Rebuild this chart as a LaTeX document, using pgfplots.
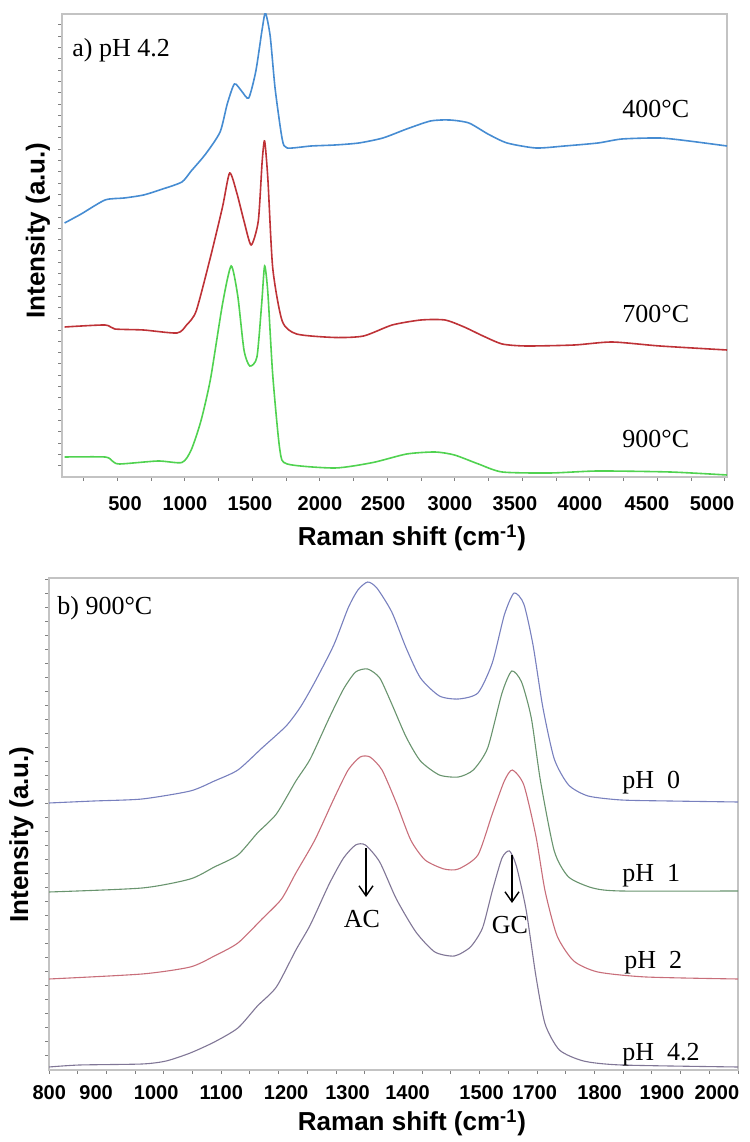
\documentclass[border=0pt]{standalone}
\usepackage{fontspec}
\setmainfont{Liberation Serif}
\setsansfont{Liberation Sans}
\usepackage{pgfplots}
\pgfplotsset{compat=1.18}
\usetikzlibrary{arrows.meta}
\definecolor{cblue}{RGB}{70,140,210}
\definecolor{cred}{RGB}{190,50,55}
\definecolor{cgreen}{RGB}{80,210,80}
\definecolor{bblue}{RGB}{120,128,190}
\definecolor{bgreen}{RGB}{105,148,110}
\definecolor{bred}{RGB}{200,110,122}
\definecolor{bpurple}{RGB}{128,118,150}
\definecolor{framec}{RGB}{195,195,195}
\begin{document}
\begin{tikzpicture}
\useasboundingbox (0,0) rectangle (375pt,571pt);
\pgfplotsset{
  myax/.style={
    scale only axis, anchor=south west,
    axis line style={framec, line width=0.8pt},
    tick align=outside,
    major tick length=2pt,
    tick style={gray, line width=0.5pt},
    xticklabels={}, yticklabels={},
    xtick pos=bottom, ytick pos=left,
    extra x tick style={major tick length=0pt,
      xticklabel style={font=\sffamily\bfseries\fontsize{10}{12}\selectfont, anchor=north, inner sep=0pt}},
    clip=true,
  }
}
% ---------------- panel a ----------------
\begin{axis}[myax,
  at={(31pt,332.5pt)}, width=332.5pt, height=231.5pt,
  xmin=89, xmax=5015, ymin=3, ymax=466,
  xtick={250,500,...,5000},
  ytick={14.3,25.6,...,466},
  extra x ticks={556,1000,1481,2000,2467,2963,3444,3926,4422,4904},
  extra x tick labels={500,1000,1500,2000,2500,3000,3500,4000,4500,5000},
  extra x tick style={xticklabel style={yshift=-9.5pt}},
]
\addplot[cblue, line width=0.8pt, smooth, tension=0.4] coordinates {
(108,257) (231,266) (408,280) (550,282) (693,285) (835,291) (977,298) (1046,309)
(1153,326) (1260,348) (1313,376) (1366,396) (1419,389) (1472,382) (1525,409)
(1572,451) (1596,467) (1631,444) (1668,391) (1720,341) (1757,332) (1934,334)
(2111,335) (2288,337) (2466,342) (2642,351) (2819,359) (2961,360) (3103,357)
(3244,346) (3386,337) (3600,332) (3812,334) (4059,337) (4237,341) (4518,342)
(4733,339) (5015,334)};
\addplot[cred, line width=0.8pt, smooth, tension=0.4] coordinates {
(108,153) (408,155) (480,151) (693,150) (941,147) (1012,155) (1083,169) (1189,223)
(1278,273) (1331,307) (1384,287) (1437,259) (1490,235) (1543,259) (1572,319)
(1590,339) (1614,301) (1650,212) (1720,159) (1827,146) (2111,142.5) (2323,144)
(2535,155) (2748,160) (2926,160) (3068,153) (3208,144) (3350,136) (3527,134)
(3884,135) (4164,138) (4518,134) (5015,130)};
\addplot[cgreen, line width=0.8pt, smooth, tension=0.4] coordinates {
(108,23) (408,23) (462,19) (515,16) (800,19) (977,17.5) (1046,30) (1118,59)
(1189,101) (1278,176) (1342,214) (1391,184) (1437,130) (1480,114) (1533,123)
(1568,176) (1590,214) (1614,187) (1650,105) (1703,30) (1757,16) (2111,12)
(2393,17.5) (2642,26) (2852,28) (2996,25) (3174,16) (3350,8) (3706,7)
(4059,9) (4593,8) (5015,5)};
\end{axis}
% ---------------- panel b ----------------
\begin{axis}[myax,
  at={(24.5pt,36pt)}, width=344.5pt, height=246pt,
  xmin=800, xmax=2000, ymin=30, ymax=522,
  xtick={800,850,...,2000},
  ytick={44,58,...,522},
  extra x ticks={800.5,882,986.6,1100,1213,1320,1424.5,1553.5,1646,1759,1867.5,1963.4},
  extra x tick labels={800,900,1000,1100,1200,1300,1400,1500,1700,1800,1900,2000},
  extra x tick style={xticklabel style={yshift=-7.5pt}},
]
\addplot[bblue, line width=0.55pt, smooth, tension=0.4] coordinates {
(800,297) (878,299) (962,301) (1046,309) (1088,319) (1129,330) (1171,352) (1213,374)
(1238,393) (1263,418) (1296,455) (1321,492) (1338,510) (1355,518) (1371,512)
(1397,488) (1422,452) (1447,422) (1480,404) (1513,401) (1547,407) (1572,437)
(1593,485) (1610,507) (1627,496) (1643,455) (1660,393) (1680,341) (1705,315)
(1739,304) (1797,300) (1881,299) (2000,298)};
\addplot[bgreen, line width=0.55pt, smooth, tension=0.4] coordinates {
(800,208) (962,212) (1046,221) (1088,233) (1129,245) (1163,267) (1196,286) (1230,319)
(1255,341) (1288,382) (1313,411) (1334,428) (1355,431) (1376,422) (1397,396)
(1422,363) (1447,339) (1480,325) (1513,323) (1539,330) (1564,352) (1589,407)
(1606,429) (1623,418) (1640,382) (1656,319) (1680,249) (1705,223) (1747,212)
(1797,209) (2000,209)};
\addplot[bred, line width=0.55pt, smooth, tension=0.4] coordinates {
(800,121) (962,126) (1046,133) (1088,144) (1129,157) (1171,181) (1205,201) (1230,227)
(1263,260) (1296,301) (1321,330) (1342,343) (1359,343) (1380,330) (1405,297)
(1430,260) (1455,240) (1488,231) (1513,231) (1547,245) (1572,286) (1593,319)
(1607,330) (1627,315) (1648,264) (1664,209) (1685,164) (1714,139) (1756,128)
(1840,123) (2000,121)};
\addplot[bpurple, line width=0.55pt, smooth, tension=0.4] coordinates {
(800,33) (853,35) (962,36) (1004,39) (1046,47) (1088,58) (1129,72) (1163,94)
(1196,113) (1230,150) (1255,175) (1288,216) (1313,242) (1334,255) (1351,255)
(1376,238) (1405,201) (1439,168) (1472,148) (1506,144) (1534,153) (1555,172)
(1572,209) (1589,242) (1602,249) (1614,234) (1631,190) (1648,124) (1664,76)
(1689,50) (1731,39) (1797,35) (2000,33)};
\end{axis}
% ---------------- texts ----------------
\tikzset{lab/.style={inner sep=0pt, font=\fontsize{13}{15}\selectfont}}
\node[lab, anchor=base west] at (36pt,542.5pt) {a) pH 4.2};
\node[lab, anchor=base west] at (311pt,512pt) {400°C};
\node[lab, anchor=base west] at (311pt,409.5pt) {700°C};
\node[lab, anchor=base west] at (311pt,347pt) {900°C};
\node[lab, anchor=base west] at (28.5pt,263.5pt) {b) 900°C};
\node[lab, anchor=base west] at (311pt,176.5pt) {pH\ \ 0};
\node[lab, anchor=base west] at (311pt,130pt) {pH\ \ 1};
\node[lab, anchor=base west] at (312pt,86.7pt) {pH\ \ 2};
\node[lab, anchor=base west] at (311pt,40.5pt) {pH\ \ 4.2};
\node[lab, anchor=base] at (181pt,107pt) {AC};
\node[lab, anchor=base] at (255pt,104pt) {GC};
\draw[line width=0.7pt, -{Straight Barb[length=5pt,width=7pt]}] (183pt,147pt) -- (183pt,122.5pt);
\draw[line width=0.7pt, -{Straight Barb[length=5pt,width=7pt]}] (256pt,143.5pt) -- (256pt,119.5pt);
% axis titles
\tikzset{alab/.style={inner sep=0pt, font=\sffamily\bfseries\fontsize{13}{15}\selectfont}}
\node[alab, anchor=base] at (206pt,298pt) {Raman shift (cm\textsuperscript{-1})};
\node[alab, anchor=base] at (206pt,5.5pt) {Raman shift (cm\textsuperscript{-1})};
\node[alab, rotate=90, anchor=center] at (19pt,455.75pt) {Intensity (a.u.)};
\node[alab, rotate=90, anchor=center] at (10.75pt,153.75pt) {Intensity (a.u.)};
\end{tikzpicture}
\end{document}
